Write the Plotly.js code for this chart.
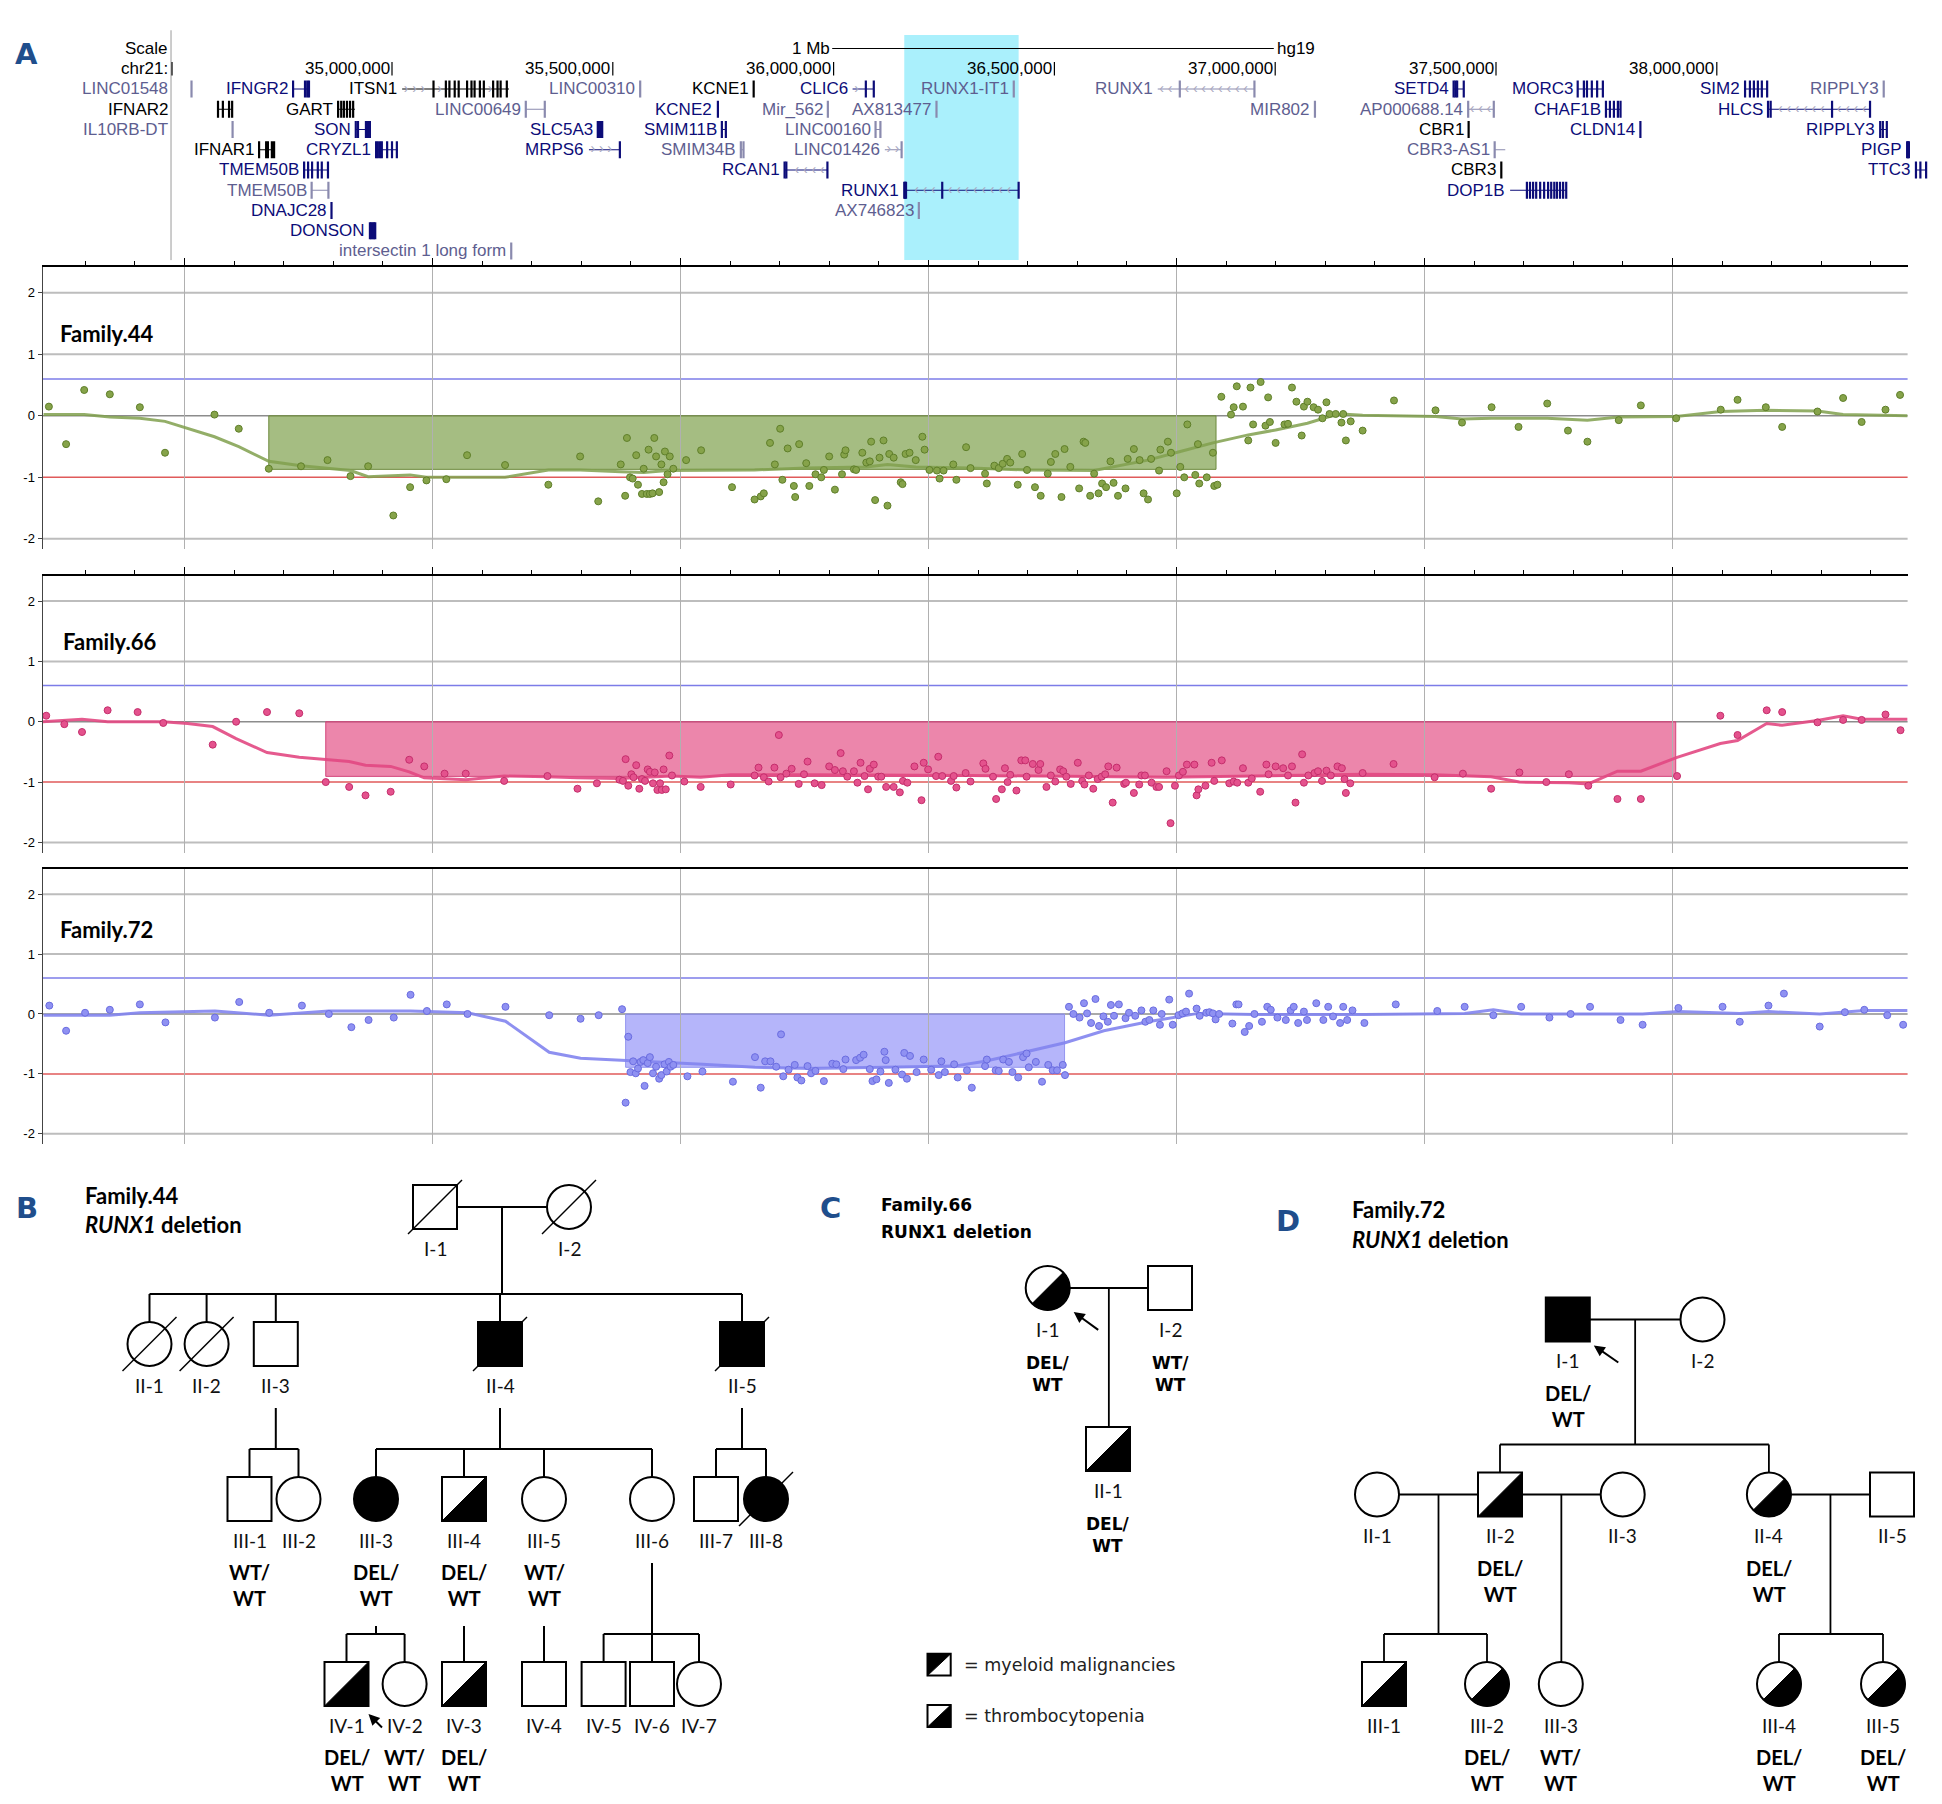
<!DOCTYPE html>
<html><head><meta charset="utf-8">
<script src="https://cdn.plot.ly/plotly-3.0.1.min.js"></script>
<style>html,body{margin:0;padding:0;background:#fff}</style>
</head><body>
<div id="chart" style="width:1942px;height:1804px"></div>
<script>
// ======================= DATA =======================
// --- gene track (hg19, chr21, Mb) ---
const geneName = ['LINC01548','IFNGR2','ITSN1','LINC00310','KCNE1','CLIC6','RUNX1-IT1','RUNX1','SETD4','MORC3','SIM2','RIPPLY3',
  'IFNAR2','GART','LINC00649','KCNE2','Mir_562','AX813477','MIR802','AP000688.14','CHAF1B','HLCS',
  'IL10RB-DT','SON','SLC5A3','SMIM11B','LINC00160','CBR1','CLDN14','RIPPLY3',
  'IFNAR1','CRYZL1','MRPS6','SMIM34B','LINC01426','CBR3-AS1','PIGP',
  'TMEM50B','RCAN1','CBR3','TTC3',
  'TMEM50B','RUNX1','DOP1B',
  'DNAJC28','AX746823',
  'DONSON',
  'intersectin 1 long form'];
const geneRow = [0,0,0,0,0,0,0,0,0,0,0,0, 1,1,1,1,1,1,1,1,1,1, 2,2,2,2,2,2,2,2, 3,3,3,3,3,3,3, 4,4,4,4, 5,5,5, 6,6, 7, 8];
const geneClass = ['g','n','k','g','k','n','g','g','n','n','n','g',
  'k','k','g','n','g','g','g','g','n','n',
  'g','n','n','n','g','k','n','n',
  'k','n','n','g','g','g','n',
  'n','n','k','n',
  'g','n','n',
  'n','g',
  'n',
  'g'];
const geneStart = [34.546,34.776,35.023,35.562,35.819,36.043,36.408,36.734,37.404,37.685,38.064,38.378,
  34.605,34.878,35.303,35.737,35.987,36.233,37.090,37.437,37.749,38.116,
  34.639,34.918,35.466,35.747,36.095,37.438,37.827,38.370,
  34.699,34.964,35.446,35.790,36.116,37.497,38.431,
  34.801,35.889,37.512,38.451,
  34.818,36.160,37.532,
  34.863,36.193,
  34.950,
  35.270];
const geneEnd = [34.547,34.812,35.265,35.563,35.820,36.091,36.409,36.953,37.427,37.742,38.116,38.379,
  34.638,34.916,35.346,35.739,35.988,36.234,37.091,37.495,37.782,38.347,
  34.640,34.950,35.477,35.756,36.107,37.439,37.828,38.385,
  34.733,35.013,35.516,35.796,36.154,37.521,38.435,
  34.855,35.986,37.513,38.474,
  34.856,36.419,37.659,
  34.864,36.194,
  34.962,
  35.271];
const geneExons = [
  [34.546],[34.776,34.803,34.808,34.812],
  [35.094,35.122,35.130,35.142,35.151,35.170,35.180,35.187,35.199,35.208,35.229,35.239,35.246,35.260],
  [35.562],[35.819],[36.073,36.091],[36.408],[36.784,36.953],[37.404,37.408,37.412,37.427],
  [37.685,37.699,37.706,37.717,37.729,37.742],[38.064,38.075,38.084,38.093,38.102,38.114],[38.378],
  [34.606,34.617,34.631,34.638],[34.878,34.885,34.891,34.898,34.905,34.912],[35.303,35.346],[35.738],[35.987],[36.233],[37.090],
  [37.437,37.495],[37.749,37.758,37.767,37.776,37.782],[38.116,38.122,38.261,38.347],
  [34.639],[34.918,34.923,34.941,34.944,34.947,34.950],[35.466,35.468,35.470,35.472,35.474,35.476],[35.747,35.756],[36.095,36.106],
  [37.438],[37.827],[38.370,38.376,38.385],
  [34.699,34.715,34.719,34.728,34.733],[34.964,34.968,34.973,34.977,34.989,35.000,35.011],[35.516],[35.790,35.796],[36.154],[37.497],[38.431,38.433,38.435],
  [34.801,34.810,34.819,34.832,34.841,34.855],[35.889,35.893,35.986],[37.512],[38.451,38.461,38.474],
  [34.818,34.856],[36.160,36.162,36.164,36.246,36.419],
  [37.570,37.577,37.584,37.591,37.600,37.609,37.618,37.625,37.632,37.638,37.645,37.652,37.659],
  [34.863],[36.193],
  [34.950,34.953,34.956,34.959,34.962],
  [35.270]];
const geneStrand = ['','','>','','','>','','<','','','','',
  '','','','','','','','<','','<',
  '','','','','','','','',
  '','','>','','>','','',
  '','<','','',
  '','<','',
  '','',
  '',
  ''];
const rulerTicks = [35.0,35.5,36.0,36.5,37.0,37.5,38.0];
const trackLeft = 34.4996, trackRight = 38.4941;

// --- CNV log2 ratio plots ---
const yTickVals = [-2,-1,0,1,2];
const yTickText = ['-2','-1','0','1','2'];
const gainThreshold = 0.6, lossThreshold = -1;

const f44Pos = [34.223,34.262,34.303,34.361,34.429,34.486,34.598,34.653,34.721,34.794,
 34.854,34.906,34.946,35.003,35.041,35.078,35.123,35.170,35.256,35.354,
 35.426,35.467,35.518,35.528,35.532,35.539,35.545,35.553,35.557,35.566,
 35.570,35.577,35.581,35.584,35.590,35.594,35.598,35.605,35.610,35.615,
 35.618,35.624,35.629,35.637,35.666,35.700,35.770,35.821,35.835,35.842,
 35.856,35.867,35.879,35.884,35.896,35.910,35.913,35.922,35.938,35.945,
 35.959,35.972,35.978,35.990,36.003,36.019,36.024,36.027,36.046,36.051,
 36.065,36.074,36.082,36.085,36.094,36.104,36.113,36.122,36.126,36.136,
 36.152,36.156,36.163,36.172,36.186,36.201,36.206,36.217,36.234,36.240,
 36.249,36.271,36.278,36.300,36.310,
 36.343,36.347,36.364,36.374,36.383,36.393,36.400,36.417,36.427,36.438,
 36.456,36.469,36.485,36.492,36.502,36.516,36.523,36.536,36.556,36.566,
 36.570,36.581,36.590,36.600,36.608,36.617,36.627,36.634,36.644,36.661,
 36.666,36.680,36.693,36.702,36.712,36.719,36.737,36.740,36.757,36.764,
 36.777,36.785,36.794,36.801,36.819,36.825,36.828,36.845,36.859,36.862,
 36.869,36.878,36.900,36.906,36.913,36.927,36.939,36.944,36.950,36.967,
 36.978,36.984,36.988,37.001,37.021,37.029,37.038,37.048,37.060,37.065,
 37.073,37.087,37.097,37.107,37.116,37.123,37.137,37.150,37.154,37.160,
 37.171,37.198,37.269,37.363,37.423,37.490,37.551,37.616,37.663,37.707,
 37.778,37.828,37.908,38.009,38.047,38.111,38.148,38.228,38.286,38.328,
 38.382,38.415];
const f44LogR = [0.15,-0.46,0.42,0.35,0.14,-0.60,0.02,-0.21,-0.86,-0.82,
 -0.72,-0.98,-0.82,-1.62,-1.16,-1.05,-1.03,-0.64,-0.80,-1.12,
 -0.66,-1.39,-0.79,-1.30,-0.36,-1.00,-1.02,-0.64,-1.12,-1.27,
 -0.86,-1.27,-0.55,-1.27,-1.26,-0.36,-0.66,-1.24,-0.79,-1.08,
 -0.58,-0.95,-0.66,-0.86,-0.72,-0.56,-1.16,-1.36,-1.31,-1.26,
 -0.44,-0.79,-0.21,-1.04,-0.53,-1.14,-1.32,-0.46,-0.77,-1.14,
 -0.95,-1.00,-0.88,-0.66,-1.20,-0.95,-0.63,-0.56,-0.87,-0.88,
 -0.60,-0.76,-0.74,-0.42,-1.37,-0.68,-0.40,-1.46,-0.62,-0.68,
 -1.08,-1.11,-0.62,-0.60,-0.72,-0.34,-0.55,-0.88,-0.89,-1.02,
 -0.89,-0.79,-1.04,-0.51,-0.85,
 -0.94,-1.10,-0.81,-0.85,-0.78,-0.70,-0.76,-1.12,-0.62,-0.88,
 -1.16,-1.30,-0.94,-0.75,-0.62,-1.32,-0.54,-0.83,-1.18,-0.42,
 -0.44,-1.30,-0.94,-1.26,-1.10,-1.16,-0.74,-1.09,-1.30,-1.18,
 -0.70,-0.54,-0.72,-1.26,-1.36,-0.70,-0.89,-0.55,-0.42,-0.60,
 -1.26,-0.83,-1.00,-0.14,-0.96,-0.46,-1.10,-1.00,-0.60,-1.14,
 -1.12,0.31,0.02,0.14,0.48,0.15,-0.40,0.46,-0.14,0.55,
 -0.16,0.30,-0.10,-0.44,-0.14,-0.13,0.46,0.23,-0.32,0.15,
 0.23,0.14,0.10,-0.04,0.22,0.03,0.03,-0.11,0.03,-0.40,
 -0.09,-0.24,0.25,0.09,-0.11,0.14,-0.18,0.20,-0.24,-0.42,
 -0.07,0.17,-0.04,0.10,0.26,0.14,-0.18,0.07,0.29,-0.10,
 0.10,0.34];
const seg44Pos = [34.211,34.303,34.361,34.429,34.486,34.537,34.598,34.653,34.721,34.794,34.854,34.906,34.946,35.003,35.041,35.078,35.170,35.256,35.354,35.426,35.518,35.570,35.624,35.770,35.821,35.938,36.074,36.122,36.186,36.310,36.438,36.590,36.644,36.712,36.785,36.859,36.939,37.001,37.073,37.123,37.150,37.198,37.363,37.423,37.490,37.616,37.707,37.778,37.908,38.009,38.111,38.228,38.286,38.432];
const seg44LogR = [0.02,0.02,-0.02,-0.04,-0.09,-0.20,-0.34,-0.50,-0.74,-0.81,-0.85,-0.89,-0.99,-0.97,-0.96,-1.00,-1.00,-1.00,-0.88,-0.88,-0.91,-0.92,-0.89,-0.89,-0.88,-0.85,-0.83,-0.79,-0.83,-0.85,-0.88,-0.89,-0.81,-0.72,-0.58,-0.44,-0.31,-0.23,-0.12,-0.01,0.03,0.01,-0.01,-0.05,-0.04,-0.04,-0.07,-0.02,-0.01,0.07,0.09,0.08,0.02,0.00];
const del44 = [34.721, 36.866, -0.87];

const f66Pos = [34.217,34.258,34.298,34.356,34.424,34.482,34.594,34.647,34.717,34.790,
 34.850,34.903,34.940,34.997,35.039,35.073,35.119,35.167,35.254,35.352,
 35.420,35.464,35.515,35.523,35.529,35.535,35.542,35.547,35.553,35.560,
 35.566,35.573,35.579,35.584,35.591,35.595,35.601,35.607,35.611,35.615,
 35.620,35.628,35.634,35.662,35.699,35.767,35.821,35.830,35.842,35.853,
 35.866,35.876,35.880,35.893,35.905,35.921,35.933,35.941,35.957,35.973,
 35.990,36.003,36.016,36.021,36.031,36.046,36.054,36.061,36.070,36.078,
 36.082,36.091,36.101,36.108,36.119,36.136,36.150,36.157,36.167,36.183,
 36.199,36.204,36.214,36.232,36.237,36.246,36.266,36.272,36.278,36.299,
 36.310,36.339,36.344,36.361,36.368,36.381,36.388,36.394,36.400,36.414,
 36.425,36.434,36.437,36.451,36.464,36.468,36.482,36.492,36.502,36.513,
 36.520,36.527,36.537,36.553,36.563,36.568,36.578,36.588,36.598,36.607,
 36.615,36.622,36.632,36.641,36.658,36.662,36.680,36.692,36.697,36.705,
 36.720,36.731,36.737,36.754,36.763,36.773,36.782,36.791,36.800,36.817,
 36.822,36.826,36.842,36.856,36.862,36.879,36.896,36.906,36.914,36.927,
 36.939,36.947,36.966,36.980,36.985,37.001,37.018,37.029,37.038,37.046,
 37.061,37.065,37.075,37.089,37.097,37.106,37.116,37.126,37.141,37.151,
 37.157,37.160,37.170,37.198,37.268,37.361,37.425,37.489,37.553,37.614,
 37.665,37.709,37.775,37.828,37.910,38.008,38.047,38.113,38.148,38.228,
 38.286,38.328,38.382,38.416];
const f66LogR = [0.10,-0.04,-0.17,0.19,0.16,-0.02,-0.38,0.00,0.16,0.14,
 -1.00,-1.08,-1.22,-1.16,-0.63,-0.74,-0.86,-0.86,-0.98,-0.90,
 -1.11,-1.02,-0.96,-0.98,-0.62,-1.06,-0.87,-0.92,-0.72,-1.11,
 -0.95,-0.98,-0.79,-0.83,-1.02,-0.84,-1.13,-1.02,-1.13,-0.79,
 -1.12,-0.56,-0.89,-0.99,-1.08,-1.04,-0.89,-0.76,-0.92,-0.99,
 -0.76,-0.22,-0.92,-0.86,-0.78,-1.03,-0.87,-0.66,-1.02,-1.05,
 -0.74,-0.80,-0.52,-0.82,-0.91,-0.82,-1.01,-0.68,-0.90,-1.12,
 -0.78,-0.71,-0.91,-0.91,-1.08,-1.08,-1.17,-0.98,-1.01,-0.74,
 -1.30,-0.68,-0.79,-0.90,-0.58,-0.90,-0.98,-0.90,-1.09,-0.85,
 -0.99,-0.69,-0.78,-0.91,-1.28,-1.12,-0.77,-1.00,-0.88,-1.14,
 -0.64,-0.64,-0.91,-0.70,-0.80,-0.70,-1.08,-0.89,-0.99,-0.79,
 -0.82,-0.91,-1.03,-0.68,-0.98,-1.04,-0.89,-1.11,-0.95,-0.91,
 -0.87,-0.74,-1.34,-0.76,-1.03,-1.01,-1.18,-1.04,-0.89,-0.89,
 -1.01,-1.08,-1.08,-0.82,-1.68,-1.06,-0.89,-0.83,-0.71,-0.71,
 -1.22,-1.12,-1.06,-0.68,-0.98,-0.64,-1.02,-0.99,-1.01,-0.77,
 -1.01,-0.94,-1.16,-0.71,-0.87,-0.74,-0.77,-0.89,-0.74,-1.34,
 -0.54,-1.01,-0.89,-0.85,-0.82,-0.98,-0.81,-0.89,-0.74,-0.77,
 -0.95,-1.18,-1.02,-0.85,-0.70,-0.92,-0.86,-1.11,-0.84,-1.00,
 -0.87,-1.06,-1.28,-1.28,-0.90,0.10,-0.22,0.19,0.16,-0.01,
 0.03,0.03,0.12,-0.14];
const seg66Pos = [34.209,34.298,34.356,34.482,34.537,34.594,34.647,34.717,34.790,34.850,34.903,34.940,34.997,35.039,35.073,35.167,35.254,35.352,35.420,35.515,35.634,35.699,35.767,35.952,36.310,36.754,37.198,37.361,37.489,37.553,37.665,37.709,37.775,37.828,37.910,38.008,38.047,38.113,38.148,38.228,38.286,38.328,38.432];
const seg66LogR = [0.00,0.04,0.00,0.00,-0.03,-0.08,-0.28,-0.51,-0.59,-0.63,-0.66,-0.72,-0.74,-0.83,-0.93,-0.96,-0.90,-0.91,-0.93,-0.94,-0.90,-0.92,-0.88,-0.88,-0.89,-0.92,-0.87,-0.88,-0.91,-1.00,-1.01,-1.03,-0.82,-0.82,-0.59,-0.36,-0.31,-0.03,-0.06,0.02,0.10,0.04,0.04];
const del66 = [34.850, 37.907, -0.905];

const f72Pos = [34.224,34.262,34.305,34.361,34.429,34.487,34.599,34.654,34.722,34.796,
 34.857,34.908,34.947,35.004,35.042,35.079,35.124,35.171,35.257,35.356,
 35.427,35.468,35.521,35.529,35.535,35.540,35.546,35.552,35.557,35.563,
 35.569,35.572,35.579,35.584,35.591,35.598,35.605,35.610,35.617,35.622,
 35.627,35.631,35.637,35.669,35.703,35.772,35.822,35.835,35.845,35.857,
 35.870,35.881,35.886,35.898,35.912,35.918,35.927,35.941,35.949,35.959,
 35.978,35.997,36.006,36.022,36.027,36.051,36.060,36.068,36.082,36.088,
 36.097,36.106,36.115,36.118,36.125,36.140,36.155,36.160,36.166,36.173,
 36.188,36.204,36.221,36.238,36.244,36.252,36.273,36.281,36.302,36.313,
 36.343,36.347,36.367,36.374,36.384,36.397,36.405,36.418,36.429,36.437,
 36.442,36.458,36.472,36.486,36.496,36.506,36.519,36.524,36.533,36.543,
 36.557,36.567,36.574,36.583,36.593,36.601,36.611,36.621,36.628,36.635,
 36.646,36.661,36.669,36.683,36.697,36.706,36.715,36.724,36.739,36.743,
 36.760,36.768,36.781,36.790,36.798,36.805,36.822,36.829,36.844,36.851,
 36.859,36.865,36.873,36.903,36.912,36.917,36.931,36.941,36.953,36.970,
 36.982,36.990,37.005,37.024,37.035,37.042,37.052,37.065,37.072,37.093,
 37.109,37.120,37.131,37.147,37.154,37.163,37.175,37.202,37.273,37.367,
 37.429,37.494,37.557,37.621,37.669,37.713,37.782,37.832,37.913,38.013,
 38.052,38.117,38.152,38.233,38.290,38.334,38.386,38.422];
const f72LogR = [0.14,-0.28,0.02,0.07,0.16,-0.14,-0.06,0.20,0.02,0.14,
 0.00,-0.22,-0.10,-0.06,0.32,0.05,0.16,0.00,0.12,-0.02,
 -0.08,-0.02,0.08,-1.48,-0.38,-0.97,-0.79,-0.99,-0.91,-0.80,
 -0.77,-1.20,-0.82,-0.72,-0.99,-0.88,-1.08,-1.02,-0.84,-0.96,
 -0.80,-0.88,-0.85,-1.04,-0.96,-1.13,-0.72,-1.23,-0.79,-0.79,
 -0.88,-0.34,-1.04,-0.93,-0.85,-1.06,-1.11,-0.87,-0.99,-0.95,
 -1.12,-0.83,-0.84,-0.92,-0.76,-0.77,-0.73,-0.68,-0.92,-1.12,
 -1.09,-0.96,-0.63,-0.77,-1.15,-0.93,-1.01,-0.65,-1.08,-0.70,
 -0.97,-0.76,-0.93,-1.02,-0.79,-0.97,-0.84,-1.06,-0.94,-1.23,
 -0.87,-0.76,-0.94,-0.95,-0.76,-0.80,-0.97,-1.06,-0.72,-0.66,
 -0.89,-0.80,-1.13,-0.85,-0.94,-0.94,-0.85,-1.02,0.12,0.00,
 -0.06,0.18,0.01,-0.15,0.25,-0.20,-0.04,-0.13,0.15,-0.03,
 0.16,-0.07,0.02,-0.03,0.06,-0.13,-0.10,0.06,-0.18,0.00,
 0.24,-0.18,-0.02,0.01,0.04,0.34,0.09,-0.03,0.02,0.03,
 0.01,-0.09,0.00,-0.16,0.16,0.16,-0.30,-0.20,0.00,-0.13,
 0.12,0.07,-0.06,-0.10,0.06,0.12,-0.15,0.04,-0.10,0.18,
 -0.10,0.12,-0.04,-0.15,0.12,-0.10,0.06,-0.15,0.16,0.05,
 0.12,-0.02,0.12,-0.06,0.00,0.12,-0.10,-0.18,0.10,0.12,
 -0.13,0.14,0.34,-0.21,0.03,0.07,-0.02,-0.18];
const seg72Pos = [34.211,34.361,34.429,34.599,34.722,34.857,35.042,35.171,35.257,35.356,35.427,35.521,35.584,35.703,35.822,35.952,36.115,36.273,36.343,36.428,36.524,36.612,36.712,36.825,36.953,37.202,37.367,37.429,37.494,37.557,37.832,37.913,38.052,38.117,38.233,38.334,38.432];
const seg72LogR = [-0.02,-0.02,0.02,0.05,-0.02,0.05,0.05,0.02,-0.12,-0.64,-0.74,-0.77,-0.79,-0.84,-0.89,-0.91,-0.89,-0.87,-0.79,-0.65,-0.48,-0.28,-0.13,0.01,-0.01,-0.01,0.01,0.01,0.07,0.00,0.00,0.04,0.01,0.04,0.00,0.06,0.06];
const del72 = [35.529, 36.523, -0.89];

// --- pedigrees ---
const ped44Id = ['I-1','I-2','II-1','II-2','II-3','II-4','II-5','III-1','III-2','III-3','III-4','III-5','III-6','III-7','III-8','IV-1','IV-2','IV-3','IV-4','IV-5','IV-6','IV-7'];
const ped44Sex = ['m','f','f','f','m','m','m','m','f','f','m','f','f','m','f','m','f','m','m','m','m','f'];
const ped44Status = ['n','n','n','n','n','full','full','n','n','full','half','n','n','n','full','half','n','half','n','n','n','n'];
const ped44Dead = [1,1,1,1,0,1,1,0,0,0,0,0,0,0,1,0,0,0,0,0,0,0];
const ped44Geno = ['','','','','','','','WT/WT','','DEL/WT','DEL/WT','WT/WT','','','','DEL/WT','WT/WT','DEL/WT','','','',''];
const ped44Gen = [1,1,2,2,2,2,2,3,3,3,3,3,3,3,3,4,4,4,4,4,4,4];
const ped44Couples = [['I-1','I-2']];
const ped44Sibs = [[['I-1','I-2'],['II-1','II-2','II-3','II-4','II-5']],[['II-3'],['III-1','III-2']],[['II-4'],['III-3','III-4','III-5','III-6']],
  [['II-5'],['III-7','III-8']],[['III-3'],['IV-1','IV-2']],[['III-4'],['IV-3']],[['III-5'],['IV-4']],[['III-6'],['IV-5','IV-6','IV-7']]];

const ped66Id = ['I-1','I-2','II-1'];
const ped66Sex = ['f','m','m'];
const ped66Status = ['half','n','half'];
const ped66Dead = [0,0,0];
const ped66Geno = ['DEL/WT','WT/WT','DEL/WT'];
const ped66Gen = [1,1,2];
const ped66Couples = [['I-1','I-2']];
const ped66Sibs = [[['I-1','I-2'],['II-1']]];

const ped72Id = ['I-1','I-2','II-1','II-2','II-3','II-4','II-5','III-1','III-2','III-3','III-4','III-5'];
const ped72Sex = ['m','f','f','m','f','f','m','m','f','f','f','f'];
const ped72Status = ['full','n','n','half','n','half','n','half','half','n','half','half'];
const ped72Dead = [0,0,0,0,0,0,0,0,0,0,0,0];
const ped72Geno = ['DEL/WT','','','DEL/WT','','DEL/WT','','','DEL/WT','WT/WT','DEL/WT','DEL/WT'];
const ped72Gen = [1,1,2,2,2,2,2,3,3,3,3,3];
const ped72Couples = [['I-1','I-2'],['II-1','II-2'],['II-2','II-3'],['II-4','II-5']];
const ped72Sibs = [[['I-1','I-2'],['II-2','II-4']],[['II-1','II-2'],['III-1','III-2']],[['II-2','II-3'],['III-3']],[['II-4','II-5'],['III-4','III-5']]];

const legendLabels = ['= myeloid malignancies','= thrombocytopenia'];

// ======================= LAYOUT GEOMETRY =======================
const W = 1942, H = 1804;
const PX_PER_MB = 441.6, FIG_MB0 = 34.11232;
const ROW0_PX = 89, ROW_PX = 20.25, TRACK_TOP_PX = 28, TRACK_BOT_PX = 262;
const mbToPx = mb => (mb - FIG_MB0) * PX_PER_MB;
const pxMb = px => px / PX_PER_MB;

const shapes = [], annotations = [], traces = [];
const NAVY = '#0c0c78';
const labelColor = {k:'#000000', n:NAVY, g:'#5e5e90'};
const glyphColor = {k:'#000000', n:NAVY, g:'#8a8aae'};

// ---------- gene track ----------
const cv = document.createElement('canvas').getContext('2d');
cv.font = '17px "Liberation Sans"';
const gl = {};
['g','n','k'].forEach(c => gl[c] = {ix:[],iy:[],ex:[],ey:[]});
const chevX = [], chevY = [], chevT = [];
for (let i = 0; i < geneName.length; i++) {
  const c = geneClass[i], r = geneRow[i], s = geneStart[i], e = geneEnd[i], g = gl[c];
  if (e - s > 0.002) { g.ix.push(s, e, null); g.iy.push(r, r, null); }
  geneExons[i].forEach(x => { g.ex.push(x, x, null); g.ey.push(r - 0.42, r + 0.42, null); });
  if (geneStrand[i]) {
    for (let p = s + 0.009; p < e - 0.005; p += 0.019) {
      if (geneExons[i].every(x => Math.abs(x - p) > 0.006)) { chevX.push(p); chevY.push(r); chevT.push(geneStrand[i] === '<' ? '‹' : '›'); }
    }
  }
  const w = cv.measureText(geneName[i]).width;
  const fits = mbToPx(s) - 4 - w > mbToPx(trackLeft) + 2;
  annotations.push({xref:'x4', yref:'y4', x: fits ? s - pxMb(4) : trackLeft - pxMb(2), y: r, text: geneName[i],
    xanchor:'right', yanchor:'middle', showarrow:false, borderpad:0,
    font:{family:'Liberation Sans', size:17, color: labelColor[c]}});
}
['g','n','k'].forEach(c => {
  traces.push({type:'scatter', mode:'lines', x:gl[c].ix, y:gl[c].iy, xaxis:'x4', yaxis:'y4', line:{color:glyphColor[c], width:1}, hoverinfo:'skip'});
  traces.push({type:'scatter', mode:'lines', x:gl[c].ex, y:gl[c].ey, xaxis:'x4', yaxis:'y4', line:{color:glyphColor[c], width:2.2}, hoverinfo:'skip'});
});
traces.push({type:'scatter', mode:'text', x:chevX, y:chevY, text:chevT, xaxis:'x4', yaxis:'y4', textfont:{family:'Liberation Sans', size:14, color:'#a8a8c0'}, hoverinfo:'skip'});

// highlight (RUNX1)
const runx = geneName.findIndex((n, i) => n === 'RUNX1' && geneRow[i] === 5);
shapes.push({type:'rect', xref:'x4', yref:'y4', x0:geneStart[runx], x1:geneEnd[runx], y0:(35-ROW0_PX)/ROW_PX, y1:(260-ROW0_PX)/ROW_PX,
  fillcolor:'#aaf0fc', line:{width:0}, layer:'below'});
// left margin line
shapes.push({type:'line', xref:'x4', yref:'y4', x0:trackLeft, x1:trackLeft, y0:-2.9, y1:8.45, line:{color:'#9a9a9a', width:1}});
// scale row
const mid = (trackLeft + trackRight) / 2;
shapes.push({type:'line', xref:'x4', yref:'y4', x0:mid - 0.5, x1:mid + 0.5, y0:-2, y1:-2, line:{color:'#000', width:1}});
const tf = {family:'Liberation Sans', size:17, color:'#000'};
annotations.push({xref:'x4', yref:'y4', x:trackLeft - pxMb(2), y:-2, text:'Scale', xanchor:'right', yanchor:'middle', showarrow:false, borderpad:0, font:tf});
annotations.push({xref:'x4', yref:'y4', x:mid - 0.5 - pxMb(1), y:-2, text:'1 Mb', xanchor:'right', yanchor:'middle', showarrow:false, borderpad:0, font:tf});
annotations.push({xref:'x4', yref:'y4', x:mid + 0.5 + pxMb(2), y:-2, text:'hg19', xanchor:'left', yanchor:'middle', showarrow:false, borderpad:0, font:tf});
// ruler row
annotations.push({xref:'x4', yref:'y4', x:trackLeft - pxMb(2), y:-1, text:'chr21:', xanchor:'right', yanchor:'middle', showarrow:false, borderpad:0, font:tf});
shapes.push({type:'line', xref:'x4', yref:'y4', x0:trackLeft + pxMb(1), x1:trackLeft + pxMb(1), y0:-1.33, y1:-0.67, line:{color:'#000', width:1.2}});
rulerTicks.forEach(p => {
  shapes.push({type:'line', xref:'x4', yref:'y4', x0:p, x1:p, y0:-1.33, y1:-0.67, line:{color:'#000', width:1.2}});
  annotations.push({xref:'x4', yref:'y4', x:p - pxMb(1.5), y:-1, text:Math.round(p * 1e6).toLocaleString('en-US'),
    xanchor:'right', yanchor:'middle', showarrow:false, borderpad:0, font:tf});
});

// ---------- CNV plots ----------
const plotPx = [[267.3,549.3],[576,852.7],[869.3,1144]];
const fams = [
  {name:'Family.44', pos:f44Pos, val:f44LogR, sp:seg44Pos, sv:seg44LogR, del:del44, pt:'#86a34a', edge:'#5f7f2a', seg:'rgba(128,160,78,0.85)', fill:'rgba(140,170,95,0.78)', boxLine:'#6d8a3c', lab:[57.5,333], ticks:true},
  {name:'Family.66', pos:f66Pos, val:f66LogR, sp:seg66Pos, sv:seg66LogR, del:del66, pt:'#e4528d', edge:'#c42e6c', seg:'rgba(226,72,130,0.9)', fill:'rgba(225,60,120,0.62)', boxLine:'#d2457a', lab:[60.6,641.7], ticks:true},
  {name:'Family.72', pos:f72Pos, val:f72LogR, sp:seg72Pos, sv:seg72LogR, del:del72, pt:'#8f91f2', edge:'#6a6ce0', seg:'rgba(130,132,238,0.9)', fill:'rgba(110,110,245,0.51)', boxLine:'#9496f0', lab:[57.5,929], ticks:false}
];
const layout = {
  width:W, height:H, margin:{l:0,r:0,t:0,b:0,pad:0}, paper_bgcolor:'#ffffff', plot_bgcolor:'rgba(0,0,0,0)', showlegend:false,
  xaxis4:{domain:[0,1], range:[FIG_MB0, FIG_MB0 + W / PX_PER_MB], anchor:'y4', visible:false, fixedrange:true},
  yaxis4:{domain:[1 - TRACK_BOT_PX / H, 1 - TRACK_TOP_PX / H], range:[(TRACK_BOT_PX - ROW0_PX) / ROW_PX, (TRACK_TOP_PX - ROW0_PX) / ROW_PX], anchor:'x4', visible:false},
  xaxis5:{domain:[0,1], range:[0,W], anchor:'y5', visible:false},
  yaxis5:{domain:[0,1], range:[H,0], anchor:'x5', visible:false},
  shapes, annotations
};
const xL = 42.5, xR = 1907.6;
fams.forEach((f, k) => {
  const sfx = k === 0 ? '' : String(k + 1);
  const xa = 'x' + sfx, ya = 'y' + sfx;
  layout['xaxis' + sfx] = {domain:[xL / W, xR / W], range:[FIG_MB0 + xL / PX_PER_MB, FIG_MB0 + xR / PX_PER_MB], anchor:ya, side:'top',
    showline:true, linecolor:'#000', linewidth:2, ticks: f.ticks ? 'outside' : '', ticklen:7, tickwidth:1, tickcolor:'#000',
    tick0:34.530, dtick:0.5616, showticklabels:false, showgrid:true, gridcolor:'#b0b0b0', gridwidth:1, zeroline:false,
    minor: f.ticks ? {dtick:0.11232, tick0:34.530, ticks:'outside', ticklen:4, tickcolor:'#000', tickwidth:1, showgrid:false} : {showgrid:false}};
  layout['yaxis' + sfx] = {domain:[1 - plotPx[k][1] / H, 1 - plotPx[k][0] / H], range:[-2.17, 2.415], anchor:xa,
    showline:true, linecolor:'#444', linewidth:1, ticks:'outside', ticklen:4, tickcolor:'#444',
    tickvals:yTickVals, ticktext:yTickText, tickfont:{family:'Liberation Sans', size:13, color:'#000'}, showgrid:false, zeroline:false};
  const xd = xa + ' domain';
  [2, 1, -2].forEach(v => shapes.push({type:'line', xref:xd, yref:ya, x0:0, x1:1, y0:v, y1:v, line:{color:'#bdbdbd', width:2}, layer:'below'}));
  shapes.push({type:'line', xref:xd, yref:ya, x0:0, x1:1, y0:0, y1:0, line:{color:'#8c8c8c', width:1.5}, layer:'below'});
  shapes.push({type:'rect', xref:xa, yref:ya, x0:f.del[0], x1:f.del[1], y0:0, y1:f.del[2], fillcolor:f.fill, line:{color:f.boxLine, width:1}, layer:'below'});
  shapes.push({type:'line', xref:xd, yref:ya, x0:0, x1:1, y0:gainThreshold, y1:gainThreshold, line:{color:'#7c7ce8', width:1.5}, layer:'below'});
  shapes.push({type:'line', xref:xd, yref:ya, x0:0, x1:1, y0:lossThreshold, y1:lossThreshold, line:{color:'#e05a5a', width:1.5}, layer:'below'});
  traces.push({type:'scatter', mode:'lines', x:f.sp, y:f.sv, xaxis:xa, yaxis:ya, line:{color:f.seg, width:3}, hoverinfo:'skip'});
  traces.push({type:'scatter', mode:'markers', x:f.pos, y:f.val, xaxis:xa, yaxis:ya, marker:{size:7, color:f.pt, line:{color:f.edge, width:1}}, hoverinfo:'skip'});
  annotations.push({xref:'x5', yref:'y5', x:f.lab[0], y:f.lab[1], text:'<b>' + f.name + '</b>', xanchor:'left', yanchor:'middle', showarrow:false,
    font:{family:'Lato', size:22, color:'#000'}});
});

// ---------- pedigrees ----------
function drawPed(p) {
  const S = 22, pos = {};
  p.id.forEach((id, i) => pos[id] = {x:p.x[i], y:p.genY[p.gen[i] - 1], i});
  const L = (x0, y0, x1, y1, w) => shapes.push({type:'line', xref:'x5', yref:'y5', x0, y0, x1, y1, line:{color:'#000', width:w || p.lw}});
  p.couples.forEach(([a, b]) => { const A = pos[a], B = pos[b]; L(Math.min(A.x, B.x) + S, A.y, Math.max(A.x, B.x) - S, A.y); });
  p.sibs.forEach(([par, kid]) => {
    let dx, top;
    if (par.length === 2) { const A = pos[par[0]], B = pos[par[1]]; dx = (Math.min(A.x, B.x) + Math.max(A.x, B.x)) / 2; top = A.y; }
    else { const A = pos[par[0]]; dx = A.x; top = A.y + (p.geno[A.i] ? 127 : 64); }
    const kids = kid.map(k => pos[k]), ky = kids[0].y;
    if (kids.length === 1 && Math.abs(kids[0].x - dx) < 3) { L(dx, top, dx, ky - S); return; }
    const sy = ky - 50;
    L(dx, top, dx, sy);
    const xs = kids.map(k => k.x).concat([dx]);
    L(Math.min(...xs), sy, Math.max(...xs), sy);
    kids.forEach(k => L(k.x, sy, k.x, ky - S));
  });
  p.id.forEach((id, i) => {
    const {x, y} = pos[id], st = p.status[i];
    shapes.push({type: p.sex[i] === 'm' ? 'rect' : 'circle', xref:'x5', yref:'y5', x0:x - S, x1:x + S, y0:y - S, y1:y + S,
      fillcolor: st === 'full' ? '#000' : '#fff', line:{color:'#000', width:2}});
    if (st === 'half') {
      let path;
      if (p.sex[i] === 'm') path = `M${x - S},${y + S}L${x + S},${y + S}L${x + S},${y - S}Z`;
      else { const pts = []; for (let a = -45; a <= 135; a += 5) { const t = a * Math.PI / 180; pts.push((x + S * Math.cos(t)).toFixed(2) + ',' + (y + S * Math.sin(t)).toFixed(2)); } path = 'M' + pts.join('L') + 'Z'; }
      shapes.push({type:'path', xref:'x5', yref:'y5', path, fillcolor:'#000', line:{color:'#000', width:1}});
    }
    if (p.dead[i]) L(x - S - 5, y + S + 5, x + S + 5, y - S - 5, 1.5);
    annotations.push({xref:'x5', yref:'y5', x, y:y + 41, text:id, showarrow:false, xanchor:'center', yanchor:'middle', font:{family:'Lato', size:19, color:'#111'}});
    if (p.geno[i]) {
      const g = p.geno[i].split('/');
      annotations.push({xref:'x5', yref:'y5', x, y:y + 86, text:'<b>' + g[0] + '/<br>' + g[1] + '</b>', showarrow:false, align:'center',
        xanchor:'center', yanchor:'middle', font:p.genoFont});
    }
  });
  const P = pos[p.proband];
  annotations.push({xref:'x5', yref:'y5', axref:'x5', ayref:'y5', x:P.x + p.arrow[0], y:P.y + p.arrow[1], ax:P.x + p.arrow[2], ay:P.y + p.arrow[3],
    text:'', showarrow:true, arrowhead:2, arrowsize:1.1, arrowwidth:2, arrowcolor:'#000'});
}
drawPed({id:ped44Id, sex:ped44Sex, status:ped44Status, dead:ped44Dead, geno:ped44Geno, gen:ped44Gen, couples:ped44Couples, sibs:ped44Sibs,
  x:[435,569,149.5,206.6,275.8,500,742,249.5,298.5,376,464,544,652,716,766,346.5,404.6,464,544,603.6,652,699],
  genY:[1207,1344,1499,1684], lw:2, proband:'IV-1', arrow:[22,30,37,45], genoFont:{family:'Lato', size:20, color:'#000'}});
drawPed({id:ped66Id, sex:ped66Sex, status:ped66Status, dead:ped66Dead, geno:ped66Geno, gen:ped66Gen, couples:ped66Couples, sibs:ped66Sibs,
  x:[1047.7,1170,1108], genY:[1288,1449], lw:1.8, proband:'I-1', arrow:[26,24,52,43], genoFont:{family:'DejaVu Sans', size:17, color:'#000'}});
drawPed({id:ped72Id, sex:ped72Sex, status:ped72Status, dead:ped72Dead, geno:ped72Geno, gen:ped72Gen, couples:ped72Couples, sibs:ped72Sibs,
  x:[1567.8,1702.5,1377,1500,1622.7,1768.9,1892,1384,1487,1560.8,1779,1883],
  genY:[1319.5,1494.5,1684], lw:1.8, proband:'I-1', arrow:[26,26,52,44], genoFont:{family:'Lato', size:20, color:'#000'}});

// legend (panel C)
[[1653.8,1675.6],[1705,1727]].forEach(([y0, y1], k) => {
  const x0 = 927.5, x1 = 950.7;
  shapes.push({type:'rect', xref:'x5', yref:'y5', x0, x1, y0, y1, fillcolor:'#fff', line:{color:'#000', width:2}});
  const path = k === 0 ? `M${x0},${y0}L${x1},${y0}L${x0},${y1}Z` : `M${x0},${y1}L${x1},${y1}L${x1},${y0}Z`;
  shapes.push({type:'path', xref:'x5', yref:'y5', path, fillcolor:'#000', line:{color:'#000', width:1}});
  annotations.push({xref:'x5', yref:'y5', x:962, y:(y0 + y1) / 2, text:legendLabels[k], xanchor:'left', yanchor:'middle', showarrow:false,
    font:{family:'DejaVu Sans', size:17.5, color:'#222'}});
});

// titles & panel letters
const letter = {family:'DejaVu Sans', size:29, color:'#1f4e8c'};
[['A',26,54],['B',27,1208],['C',830,1208],['D',1288,1221]].forEach(([t, x, y]) =>
  annotations.push({xref:'x5', yref:'y5', x, y, text:'<b>' + t + '</b>', showarrow:false, xanchor:'center', yanchor:'middle', font:letter}));
const tLato = {family:'Lato', size:22, color:'#000'}, tDV = {family:'DejaVu Sans', size:17, color:'#000'};
[['<b>Family.44</b>',82.6,1195,tLato],['<b><i>RUNX1</i> deletion</b>',82.6,1224,tLato],
 ['<b>Family.66</b>',879.3,1205,tDV],['<b>RUNX1 deletion</b>',879.3,1232,tDV],
 ['<b>Family.72</b>',1350,1209.5,tLato],['<b><i>RUNX1</i> deletion</b>',1350,1239,tLato]].forEach(([t, x, y, f]) =>
  annotations.push({xref:'x5', yref:'y5', x, y, text:t, showarrow:false, xanchor:'left', yanchor:'middle', font:f}));

traces.push({type:'scatter', mode:'markers', x:[0], y:[0], xaxis:'x5', yaxis:'y5', marker:{opacity:0}, hoverinfo:'skip'});

Plotly.newPlot('chart', traces, layout, {staticPlot:true, displayModeBar:false});
</script>
</body></html>
